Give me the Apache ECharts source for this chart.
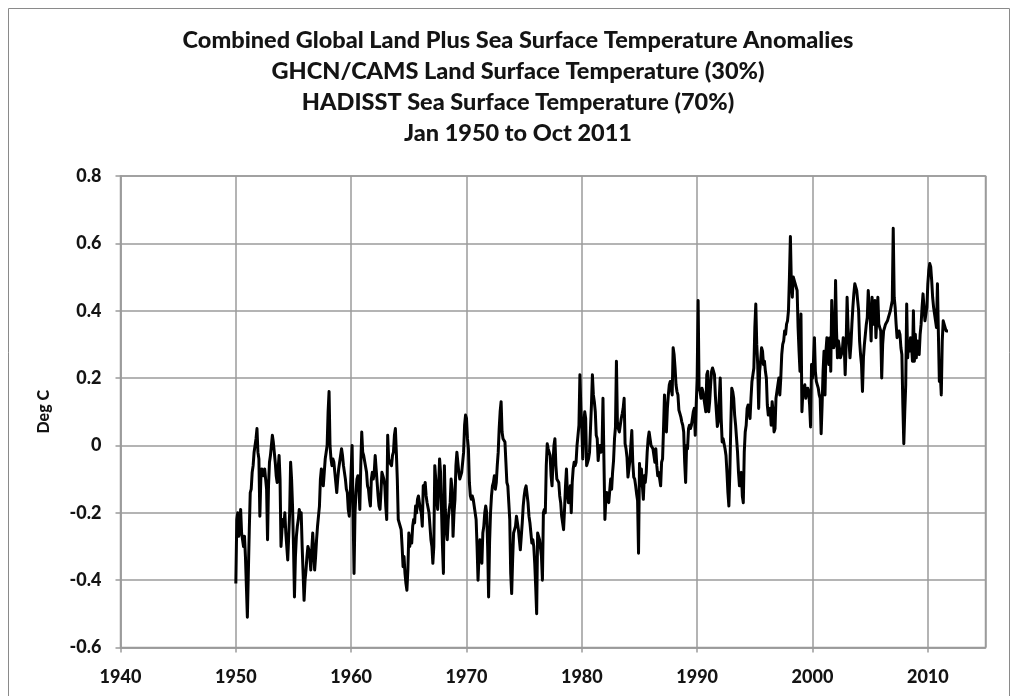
<!DOCTYPE html>
<html>
<head>
<meta charset="utf-8">
<title>Combined Global Land Plus Sea Surface Temperature Anomalies</title>
<script src="https://cdn.jsdelivr.net/npm/echarts@6/dist/echarts.min.js"></script>
<style>
  html, body { margin: 0; padding: 0; background: #ffffff; }
  #chart { width: 1018px; height: 696px; }
</style>
</head>
<body>
<div id="chart"></div>
<script>
// Monthly anomalies (deg C), Jan 1950 .. Oct 2011, one array per decade
const anom1950s = [
  -0.41, -0.22, -0.20, -0.27, -0.25, -0.19, -0.26, -0.28, -0.30, -0.27, -0.33, -0.42,
  -0.51, -0.38, -0.25, -0.14, -0.13, -0.08, -0.06, -0.02, 0.00, 0.02, 0.05, -0.02,
  -0.04, -0.21, -0.10, -0.07, -0.08, -0.09, -0.07, -0.10, -0.13, -0.28, -0.12, -0.05,
  -0.03, 0.00, 0.03, 0.01, -0.02, -0.05, -0.09, -0.11, -0.07, -0.03, -0.10, -0.30,
  -0.25, -0.22, -0.24, -0.20, -0.26, -0.30, -0.34, -0.27, -0.20, -0.05, -0.10, -0.18,
  -0.30, -0.45, -0.33, -0.27, -0.24, -0.22, -0.19, -0.21, -0.20, -0.30, -0.38, -0.46,
  -0.40, -0.37, -0.33, -0.30, -0.31, -0.33, -0.37, -0.31, -0.26, -0.31, -0.37, -0.33,
  -0.28, -0.24, -0.21, -0.18, -0.10, -0.07, -0.08, -0.12, -0.08, -0.04, -0.02, 0.00,
  0.10, 0.16, 0.00, -0.04, -0.06, -0.04, -0.05, -0.08, -0.11, -0.14, -0.10, -0.07,
  -0.05, -0.03, -0.01, -0.03, -0.06, -0.08, -0.10, -0.13, -0.14, -0.19, -0.21, -0.15
];
const anom1960s = [
  -0.07, 0.00, -0.20, -0.38, -0.20, -0.14, -0.10, -0.09, -0.12, -0.19, -0.06, 0.04,
  -0.02, -0.03, -0.03, -0.03, -0.08, -0.12, -0.13, -0.16, -0.18, -0.10, -0.08, -0.10,
  -0.08, -0.03, -0.07, -0.11, -0.15, -0.18, -0.19, -0.14, -0.08, -0.09, -0.10, -0.12,
  -0.18, -0.22, 0.03, -0.04, -0.05, -0.05, -0.06, -0.03, -0.02, 0.03, 0.05, -0.02,
  -0.10, -0.22, -0.23, -0.24, -0.25, -0.30, -0.36, -0.33, -0.38, -0.41, -0.43, -0.37,
  -0.26, -0.30, -0.27, -0.29, -0.24, -0.22, -0.23, -0.18, -0.20, -0.16, -0.15, -0.17,
  -0.19, -0.20, -0.24, -0.12, -0.13, -0.11, -0.15, -0.17, -0.17, -0.20, -0.24, -0.28,
  -0.30, -0.35, -0.30, -0.06, -0.10, -0.16, -0.19, -0.12, -0.04, -0.08, -0.19, -0.30,
  -0.38, -0.06, -0.19, -0.25, -0.28, -0.22, -0.19, -0.17, -0.10, -0.13, -0.27, -0.20,
  -0.16, -0.06, -0.02, -0.05, -0.08, -0.10, -0.09, -0.08, -0.05, -0.02, 0.06, 0.09
];
const anom1970s = [
  0.08, 0.02, -0.01, -0.11, -0.15, -0.16, -0.15, -0.16, -0.18, -0.20, -0.22, -0.30,
  -0.40, -0.33, -0.28, -0.32, -0.35, -0.26, -0.24, -0.20, -0.18, -0.20, -0.30, -0.45,
  -0.29, -0.20, -0.15, -0.12, -0.11, -0.09, -0.13, -0.11, -0.06, -0.02, 0.05, 0.10,
  0.13, 0.04, 0.02, 0.02, 0.01, -0.05, -0.11, -0.12, -0.17, -0.22, -0.38, -0.44,
  -0.34, -0.26, -0.25, -0.24, -0.21, -0.21, -0.25, -0.28, -0.31, -0.27, -0.23, -0.18,
  -0.15, -0.13, -0.12, -0.12, -0.17, -0.21, -0.23, -0.26, -0.29, -0.28, -0.30, -0.35,
  -0.42, -0.50, -0.26, -0.27, -0.28, -0.28, -0.33, -0.40, -0.20, -0.19, -0.20, -0.06,
  0.005, -0.01, -0.02, -0.03, -0.09, -0.12, -0.05, 0.00, 0.02, -0.06, -0.10, -0.10,
  -0.11, -0.15, -0.17, -0.21, -0.23, -0.25, -0.19, -0.12, -0.07, -0.14, -0.17, -0.15,
  -0.12, -0.20, -0.11, -0.07, -0.05, -0.06, -0.05, 0.00, 0.03, 0.06, 0.21, 0.11
];
const anom1980s = [
  0.05, -0.04, 0.06, 0.10, 0.08, -0.06, -0.05, -0.04, -0.02, 0.05, 0.12, 0.21,
  0.15, 0.13, 0.10, 0.03, 0.02, -0.045, -0.01, 0.00, -0.02, -0.01, 0.14, -0.045,
  -0.22, -0.16, -0.14, -0.16, -0.17, -0.17, -0.10, -0.13, -0.08, -0.045, 0.02, 0.054,
  0.25, 0.07, 0.05, 0.04, 0.06, 0.08, 0.094, 0.11, 0.14, 0.005, -0.01, -0.035,
  -0.094, -0.07, -0.045, 0.00, 0.044, -0.05, -0.094, -0.10, -0.12, -0.144, -0.164, -0.32,
  -0.054, -0.12, -0.07, -0.12, -0.16, -0.09, -0.11, -0.08, -0.02, 0.02, 0.04, 0.02,
  0.00, 0.00, -0.01, -0.03, -0.05, -0.01, -0.06, -0.09, -0.08, -0.10, -0.12, -0.05,
  -0.04, 0.05, 0.15, 0.07, 0.04, 0.11, 0.15, 0.18, 0.19, 0.17, 0.15, 0.29,
  0.27, 0.23, 0.18, 0.16, 0.15, 0.105, 0.095, 0.085, 0.07, 0.06, 0.04, -0.05,
  -0.11, 0.00, -0.01, 0.05, 0.06, 0.05, 0.06, 0.08, 0.10, 0.11, 0.03, 0.12
];
const anom1990s = [
  0.20, 0.43, 0.17, 0.16, 0.14, 0.17, 0.16, 0.14, 0.12, 0.10, 0.21, 0.22,
  0.10, 0.13, 0.18, 0.22, 0.23, 0.23, 0.21, 0.145, 0.10, 0.056, 0.07, 0.14,
  0.20, 0.08, 0.01, 0.02, 0.02, -0.01, -0.03, -0.08, -0.14, -0.18, -0.08, 0.06,
  0.17, 0.16, 0.14, 0.09, 0.06, 0.02, -0.02, -0.08, -0.12, -0.12, -0.08, -0.15,
  -0.17, -0.02, 0.04, 0.06, 0.11, 0.12, 0.10, 0.08, 0.14, 0.19, 0.21, 0.23,
  0.35, 0.42, 0.30, 0.24, 0.11, 0.22, 0.25, 0.29, 0.28, 0.24, 0.25, 0.22,
  0.20, 0.12, 0.09, 0.10, 0.11, 0.06, 0.13, 0.10, 0.04, 0.05, 0.14, 0.16,
  0.18, 0.20, 0.15, 0.20, 0.27, 0.30, 0.31, 0.34, 0.33, 0.36, 0.37, 0.40,
  0.50, 0.62, 0.48, 0.44, 0.50, 0.49, 0.49, 0.47, 0.46, 0.35, 0.28, 0.22,
  0.39, 0.10, 0.16, 0.17, 0.18, 0.14, 0.16, 0.17, 0.16, 0.12, 0.055, 0.24
];
const anom2000s = [
  0.20, 0.25, 0.32, 0.22, 0.19, 0.18, 0.17, 0.15, 0.14, 0.035, 0.12, 0.22,
  0.28, 0.15, 0.28, 0.32, 0.27, 0.24, 0.32, 0.22, 0.43, 0.34, 0.29, 0.30,
  0.49, 0.34, 0.26, 0.31, 0.29, 0.26, 0.27, 0.28, 0.32, 0.30, 0.21, 0.30,
  0.44, 0.35, 0.31, 0.26, 0.30, 0.36, 0.41, 0.45, 0.48, 0.47, 0.46, 0.43,
  0.40, 0.31, 0.27, 0.24, 0.16, 0.26, 0.30, 0.33, 0.36, 0.38, 0.46, 0.41,
  0.38, 0.31, 0.44, 0.36, 0.40, 0.43, 0.32, 0.38, 0.44, 0.36, 0.35, 0.34,
  0.20, 0.30, 0.34, 0.35, 0.36, 0.36, 0.37, 0.38, 0.39, 0.40, 0.40, 0.43,
  0.645, 0.44, 0.41, 0.36, 0.32, 0.33, 0.34, 0.33, 0.29, 0.27, 0.12, 0.005,
  0.10, 0.18, 0.42, 0.26, 0.31, 0.28, 0.32, 0.30, 0.25, 0.40, 0.25, 0.33,
  0.26, 0.31, 0.28, 0.27, 0.33, 0.36, 0.41, 0.45, 0.41, 0.37, 0.39, 0.41
];
const anom2010s = [
  0.48, 0.52, 0.54, 0.53, 0.49, 0.44, 0.41, 0.39, 0.37, 0.35, 0.48, 0.33,
  0.19, 0.21, 0.15, 0.31, 0.37, 0.37, 0.35, 0.34, 0.34, 0.34
];

const startYear = 1950;
const yTicks = [-0.6, -0.4, -0.2, 0, 0.2, 0.4, 0.6, 0.8];
const xTicks = [1940, 1950, 1960, 1970, 1980, 1990, 2000, 2010];
const titleLines = [
  'Combined Global Land Plus Sea Surface Temperature Anomalies',
  'GHCN/CAMS Land Surface Temperature (30%)',
  'HADISST Sea Surface Temperature (70%)',
  'Jan 1950 to Oct 2011'
];
const yAxisTitle = 'Deg C';

// Decimal-year x for each month
const monthly = [].concat(anom1950s, anom1960s, anom1970s, anom1980s, anom1990s, anom2000s, anom2010s);
const points = monthly.map((v, i) => [startYear + i / 12, v]);

const gridColor = '#9b9b9b';
const textColor = '#141414';
const fontFamily = 'Lato, "Open Sans", sans-serif';

const plot = { left: 120.5, top: 176, width: 865, height: 471.5 };

const chart = echarts.init(document.getElementById('chart'), null, { renderer: 'canvas' });

const titleGraphics = titleLines.map((t, i) => ({
  type: 'text',
  x: 518,
  y: 40 + i * 31,
  style: {
    text: t,
    align: 'center',
    verticalAlign: 'middle',
    fill: textColor,
    font: '900 23.5px ' + fontFamily
  }
}));

chart.setOption({
  animation: false,
  backgroundColor: '#ffffff',
  graphic: [
    {
      type: 'rect',
      shape: { x: 8.5, y: 8.5, width: 1001, height: 720 },
      style: { fill: 'none', stroke: '#8a8a8a', lineWidth: 1 },
      silent: true
    },
    ...titleGraphics,
    {
      type: 'text',
      x: 44,
      y: plot.top + plot.height / 2,
      rotation: Math.PI / 2,
      style: {
        text: yAxisTitle,
        align: 'center',
        verticalAlign: 'middle',
        fill: textColor,
        font: '900 16px ' + fontFamily
      }
    }
  ],
  grid: {
    left: plot.left,
    top: plot.top,
    width: plot.width,
    height: plot.height,
    show: true,
    borderColor: gridColor,
    borderWidth: 1.5,
    backgroundColor: 'transparent'
  },
  xAxis: {
    type: 'value',
    min: xTicks[0],
    max: 2015,
    interval: 10,
    axisLine: { show: true, onZero: false, lineStyle: { color: gridColor, width: 1.5 } },
    axisTick: { show: true, length: 5, lineStyle: { color: gridColor, width: 1.5 } },
    splitLine: { show: true, lineStyle: { color: gridColor, width: 1.5 } },
    axisLabel: {
      showMaxLabel: false,
      margin: 21,
      color: textColor,
      fontFamily: fontFamily,
      fontWeight: 900,
      fontSize: 18,
      formatter: (v) => (xTicks.indexOf(v) >= 0 ? String(v) : '')
    }
  },
  yAxis: {
    type: 'value',
    min: yTicks[0],
    max: yTicks[yTicks.length - 1],
    interval: 0.2,
    axisLine: { show: true, lineStyle: { color: gridColor, width: 1.5 } },
    axisTick: { show: true, length: 5, lineStyle: { color: gridColor, width: 1.5 } },
    splitLine: { show: true, lineStyle: { color: gridColor, width: 1.5 } },
    axisLabel: {
      margin: 19,
      color: textColor,
      fontFamily: fontFamily,
      fontWeight: 900,
      fontSize: 18,
      formatter: (v) => String(Math.round(v * 10) / 10)
    }
  },
  series: [{
    type: 'line',
    data: points,
    symbol: 'none',
    showSymbol: false,
    smooth: false,
    lineStyle: { color: '#000000', width: 3, join: 'round' },
    z: 5
  }]
});
</script>
</body>
</html>
